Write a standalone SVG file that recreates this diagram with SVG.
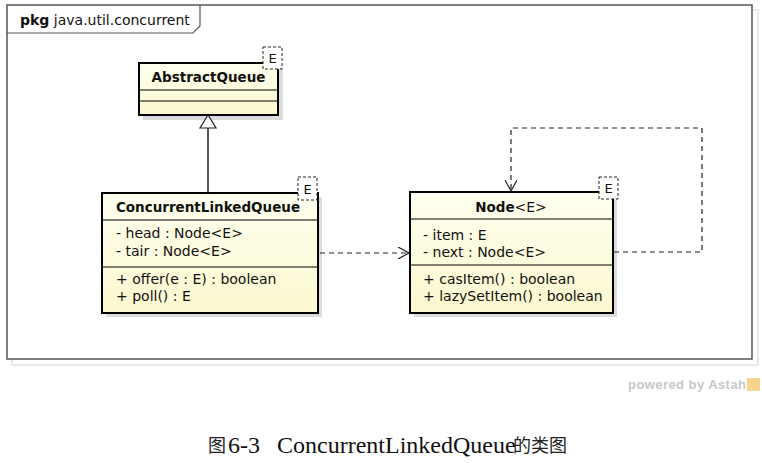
<svg xmlns="http://www.w3.org/2000/svg" width="762" height="463" viewBox="0 0 762 463">
<defs>
<linearGradient id="fill" x1="0" y1="0" x2="0" y2="1">
<stop offset="0" stop-color="#fffff0"/>
<stop offset="1" stop-color="#fbf8cf"/>
</linearGradient>
<marker id="open" viewBox="0 0 12 12" refX="11" refY="6" markerWidth="12" markerHeight="12" markerUnits="userSpaceOnUse" orient="auto">
<path d="M0,0 L11,6 L0,12" fill="none" stroke="#222" stroke-width="1.2"/>
</marker>
</defs>
<style>
text{font-family:"DejaVu Sans","Liberation Sans",sans-serif;font-size:14px;fill:#111}
.b{font-weight:bold;font-size:13.5px}
.box{fill:url(#fill);stroke:#000;stroke-width:2}
.sh{fill:#dcdcdc}
.div{stroke:#000;stroke-width:1}
.tp{fill:#fff;stroke:#222;stroke-width:1;stroke-dasharray:3,2}
.e{font-size:13px}
.dash{fill:none;stroke:#222;stroke-width:1.2;stroke-dasharray:5,4}
.cap{font-family:"Liberation Serif","Noto Sans CJK SC",serif;font-size:24px;fill:#111}
.cj{font-family:"Noto Sans CJK SC",serif;font-size:18px;fill:#222}
</style>
<rect width="762" height="463" fill="#fff"/>
<!-- package frame -->
<g id="package">
<rect x="12" y="10" width="746" height="355" fill="none" stroke="#e2e2e2" stroke-width="1.5"/>
<rect x="7" y="5" width="745" height="354" fill="#fff" stroke="#555" stroke-width="1.5"/>
<path d="M7,33 H193 L200,26 V5" fill="none" stroke="#555" stroke-width="1.2"/>
<text x="20" y="25"><tspan class="b" style="font-size:14px">pkg</tspan> java.util.concurrent</text>
</g>
<!-- AbstractQueue -->
<g id="AbstractQueue">
<rect class="sh" x="143" y="67" width="140" height="53"/>
<rect class="box" x="139" y="63" width="139" height="52"/>
<line class="div" x1="139" y1="90" x2="278" y2="90"/>
<line class="div" x1="139" y1="101" x2="278" y2="101"/>
<text class="b" x="208.5" y="82" text-anchor="middle">AbstractQueue</text>
<rect class="tp" x="263" y="47" width="19" height="22"/>
<text class="e" x="272.5" y="63" text-anchor="middle">E</text>
</g>
<!-- ConcurrentLinkedQueue -->
<g id="ConcurrentLinkedQueue">
<rect class="sh" x="106" y="197" width="216" height="120"/>
<rect class="box" x="102" y="193" width="216" height="120"/>
<line class="div" x1="102" y1="220" x2="318" y2="220"/>
<line class="div" x1="102" y1="267" x2="318" y2="267"/>
<text class="b" x="208" y="212" text-anchor="middle">ConcurrentLinkedQueue</text>
<text x="116" y="238">- head : Node&lt;E&gt;</text>
<text x="116" y="256">- tair : Node&lt;E&gt;</text>
<text x="116" y="284">+ offer(e : E) : boolean</text>
<text x="116" y="301">+ poll() : E</text>
<rect class="tp" x="298" y="177" width="19" height="23"/>
<text class="e" x="307.5" y="194" text-anchor="middle">E</text>
</g>
<!-- Node -->
<g id="Node">
<rect class="sh" x="414" y="196" width="203" height="121"/>
<rect class="box" x="410" y="192" width="203" height="121"/>
<line class="div" x1="410" y1="219" x2="613" y2="219"/>
<line class="div" x1="410" y1="265" x2="613" y2="265"/>
<text x="511" y="212" text-anchor="middle"><tspan class="b">Node</tspan>&lt;E&gt;</text>
<text x="423" y="240">- item : E</text>
<text x="423" y="257">- next : Node&lt;E&gt;</text>
<text x="423" y="284">+ casItem() : boolean</text>
<text x="423" y="301">+ lazySetItem() : boolean</text>
<rect class="tp" x="599" y="177" width="19" height="22"/>
<text class="e" x="608.5" y="193" text-anchor="middle">E</text>
</g>
<!-- connectors -->
<g id="connectors">
<line x1="208" y1="193" x2="208" y2="128" stroke="#222" stroke-width="1.5"/>
<polygon points="208,115 200,128 216,128" fill="#fff" stroke="#222" stroke-width="1.2"/>
<line class="dash" x1="320" y1="253" x2="409" y2="253" marker-end="url(#open)"/>
<path class="dash" d="M614,252 H702 V128 H511 V191" marker-end="url(#open)"/>
</g>
<!-- watermark -->
<g id="watermark">
<text x="628" y="389" textLength="118" style="font-family:'Liberation Sans',sans-serif;font-size:13px;font-weight:bold;fill:#c8c8c8">powered by Astah</text>
<rect x="747" y="378" width="13" height="13" fill="#f6d58a"/>
</g>
<g id="caption">
<text class="cj" x="208" y="452">图</text>
<text class="cap" x="228" y="453">6-3</text>
<text class="cap" x="277" y="453">ConcurrentLinkedQueue</text>
<text class="cj" x="513" y="452">的类图</text>
</g>
</svg>
